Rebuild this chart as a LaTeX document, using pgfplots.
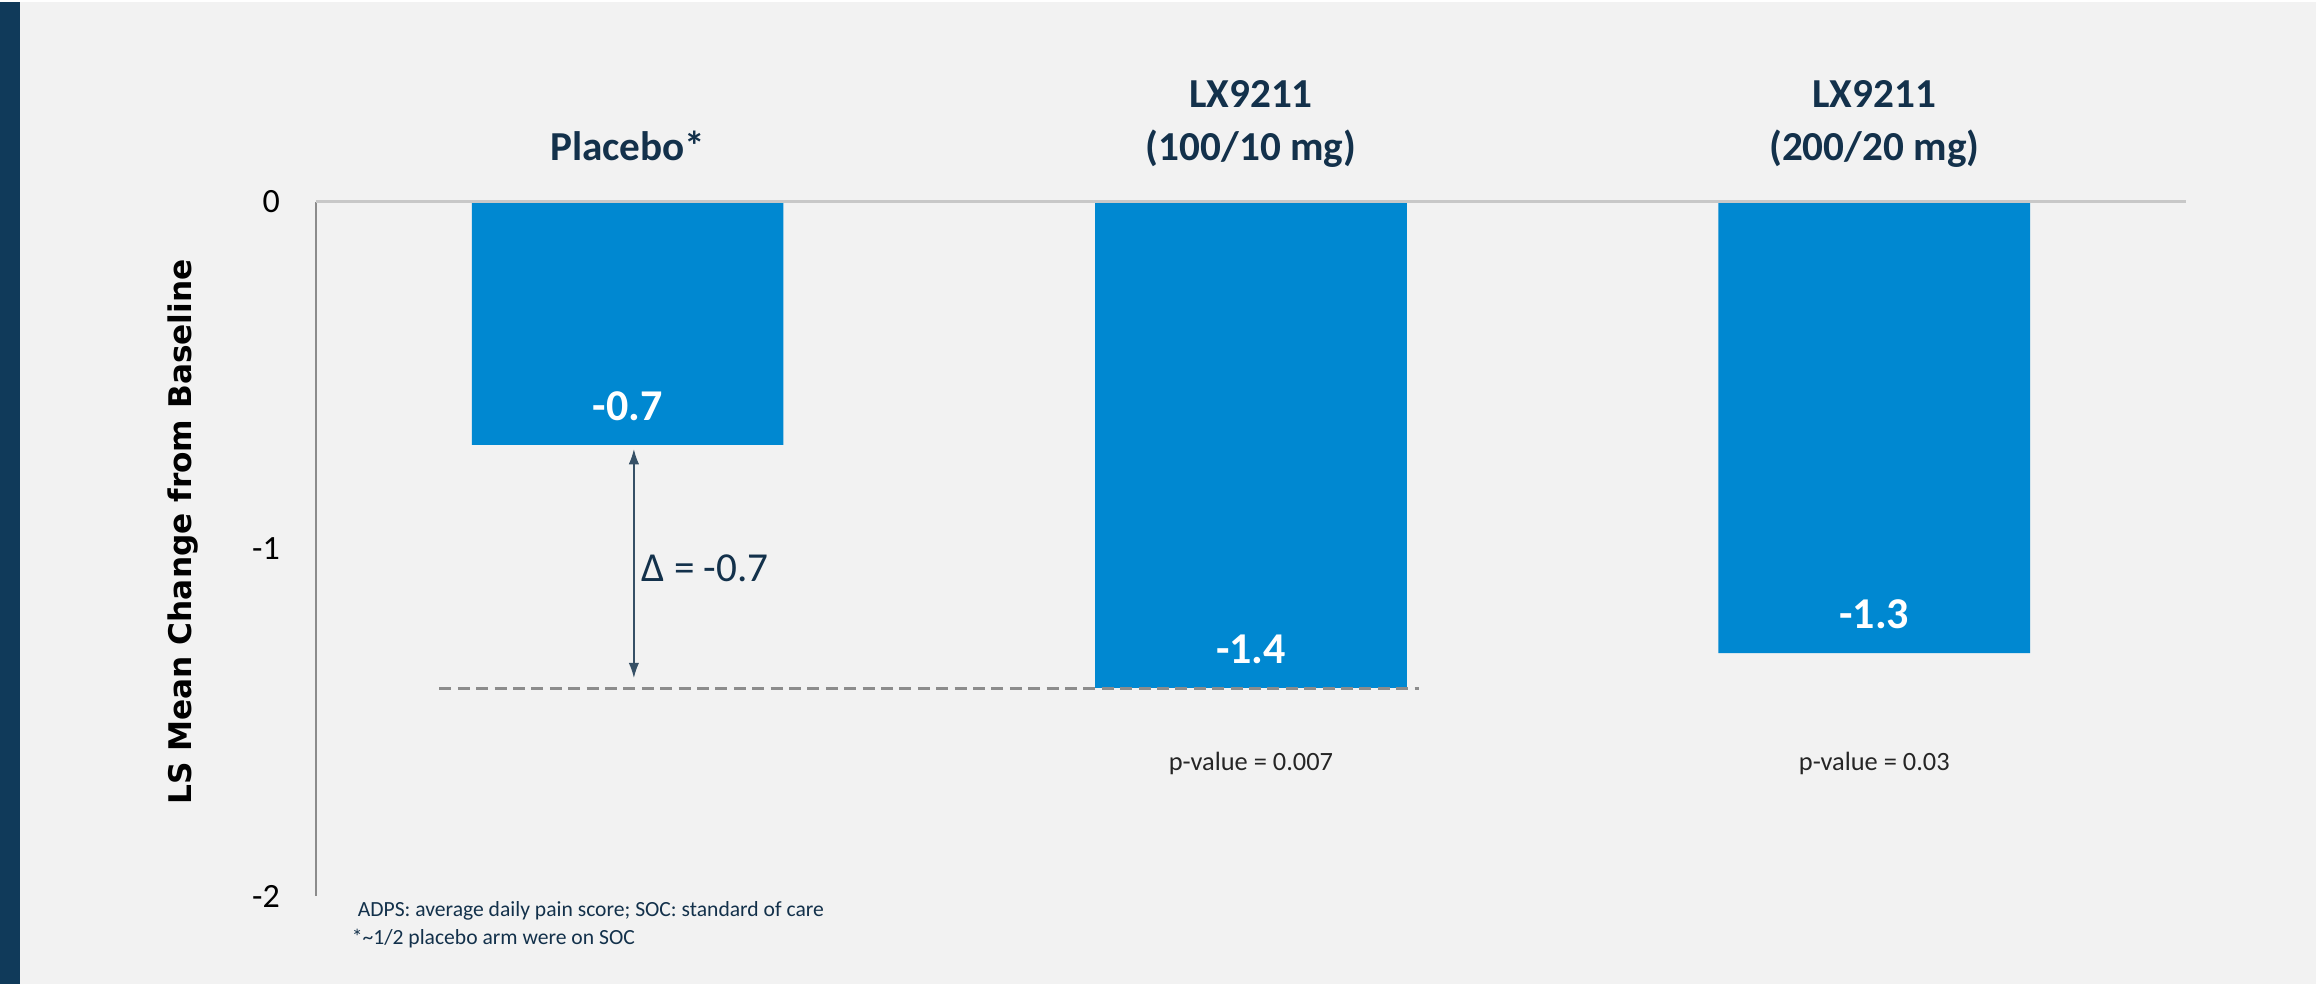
\documentclass[border=0pt]{standalone}
\usepackage{pgfplots}
\pgfplotsset{compat=1.18}
\usepackage{fontspec}
\setmainfont{Carlito}
\newfontfamily\ylabfont{DejaVu Sans}
\usetikzlibrary{arrows.meta}
\definecolor{bgc}{HTML}{F2F2F2}
\definecolor{barblue}{HTML}{0088D1}
\definecolor{navy}{HTML}{13314B}
\definecolor{leftbar}{HTML}{103A5A}
\definecolor{zeroline}{HTML}{C8C8C8}
\definecolor{dashc}{HTML}{8C8C8C}
\begin{document}
\begin{tikzpicture}
\useasboundingbox (0,0) rectangle (579pt,246pt);
\fill[bgc] (0,0) rectangle (579pt,246pt);
\fill[white] (0,245.5pt) rectangle (579pt,246pt);
\fill[leftbar] (0,0) rectangle (5pt,245.5pt);
\begin{axis}[
  at={(79pt,22pt)}, anchor=south west,
  scale only axis, width=467.5pt, height=173.5pt,
  xmin=-0.5, xmax=2.5, ymin=-2, ymax=0,
  axis x line=none, axis y line*=left,
  axis line style={draw=gray!90, line width=0.5pt},
  xtick=\empty,
  ytick={-2,-1,0}, yticklabels={{-2},{-1},{0}},
  major tick length=0pt,
  yticklabel style={font=\fontsize{8.5}{10}\selectfont, text=black, xshift=-5.5pt},
  clip=false,
]
\addplot[ybar, bar width=0.5, fill=barblue, draw=none] coordinates {(0,-0.7) (1,-1.4) (2,-1.3)};
\addplot[dashc, line width=0.75pt, dash pattern=on 3pt off 1.6pt] coordinates {(-0.302,-1.403) (1.27,-1.403)};
\draw[zeroline, line width=0.75pt] (axis cs:-0.5,0) -- (axis cs:2.5,0);
% arrow
\draw[{Latex[length=3.8pt,width=2.6pt]}-{Latex[length=3.8pt,width=2.6pt]}, draw=navy!85, fill=navy, line width=0.4pt] (axis cs:0.01,-0.712) -- (axis cs:0.01,-1.372);
\node[anchor=base west, text=navy, font=\fontsize{10.3}{12}\selectfont, inner sep=0pt] at (axis cs:0.021,-1.095) {Δ = -0.7};
% data labels
\node[anchor=base, text=white, font=\fontsize{11}{13}\selectfont\bfseries, inner sep=0pt] at (axis cs:0,-0.629) {-0.7};
\node[anchor=base, text=white, font=\fontsize{11}{13}\selectfont\bfseries, inner sep=0pt] at (axis cs:1,-1.329) {-1.4};
\node[anchor=base, text=white, font=\fontsize{11}{13}\selectfont\bfseries, inner sep=0pt] at (axis cs:2,-1.229) {-1.3};
% category labels
\node[anchor=base, text=navy, font=\fontsize{10.3}{12}\selectfont\bfseries, inner sep=0pt] at (axis cs:0,0.121) {Placebo*};
\node[anchor=base, text=navy, font=\fontsize{10.3}{12}\selectfont\bfseries, inner sep=0pt] at (axis cs:1,0.271) {LX9211};
\node[anchor=base, text=navy, font=\fontsize{10.3}{12}\selectfont\bfseries, inner sep=0pt] at (axis cs:1,0.121) {(100/10 mg)};
\node[anchor=base, text=navy, font=\fontsize{10.3}{12}\selectfont\bfseries, inner sep=0pt] at (axis cs:2,0.271) {LX9211};
\node[anchor=base, text=navy, font=\fontsize{10.3}{12}\selectfont\bfseries, inner sep=0pt] at (axis cs:2,0.121) {(200/20 mg)};
% p-values
\node[anchor=base, text=black!85, font=\fontsize{6.6}{8}\selectfont, inner sep=0pt] at (axis cs:1,-1.637) {p-value = 0.007};
\node[anchor=base, text=black!85, font=\fontsize{6.6}{8}\selectfont, inner sep=0pt] at (axis cs:2,-1.637) {p-value = 0.03};
\end{axis}
\node[rotate=90, anchor=center, inner sep=0pt, font=\ylabfont\bfseries\fontsize{7.8}{9}\selectfont] at (45.75pt,113pt) {LS Mean Change from Baseline};
\node[anchor=base west, inner sep=0pt, text=navy, font=\fontsize{5.4}{6.5}\selectfont] at (89.25pt,16.75pt) {ADPS: average daily pain score; SOC: standard of care};
\node[anchor=base west, inner sep=0pt, text=navy, font=\fontsize{5.4}{6.5}\selectfont] at (87.75pt,9.75pt) {*\textasciitilde 1/2 placebo arm were on SOC};
\end{tikzpicture}
\end{document}
